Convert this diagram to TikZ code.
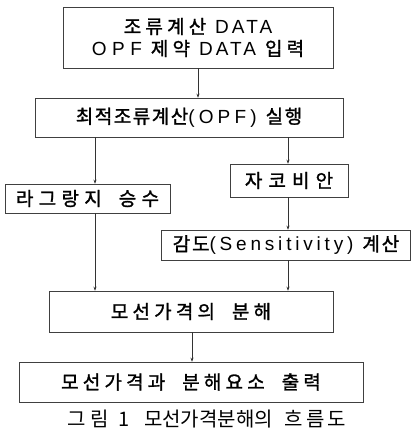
\documentclass[tikz,border=0pt]{standalone}
\usepackage{fontspec}
% Hangul and Latin faces for the boxes; tracking is set word by word
\newfontfamily\kr[FakeBold=1.4]{Noto Sans CJK KR}
\newfontfamily\latfont{Liberation Sans}
\newfontfamily\krcap{Noto Sans CJK KR}
\newcommand{\hg}[2]{{\addfontfeature{LetterSpace=#1}#2}}
\newcommand{\lat}[2]{{\latfont\addfontfeature{LetterSpace=#1}#2}}
\newcommand{\gap}{\hspace{9pt}}
\newcommand{\wgap}{\hspace{17pt}}
\usetikzlibrary{arrows.meta}
\begin{document}
\begin{tikzpicture}[x=1pt,y=-1pt,
  stepbox/.style={draw=black!75,line width=0.5pt,rectangle,inner sep=0pt,
    font=\kr\fontsize{19}{22}\selectfont,align=center},
  arr/.style={draw=black!80,line width=0.5pt,-{Stealth[length=4pt,width=3pt]}}]
\useasboundingbox (0,0) rectangle (411,432);

% process boxes
\node[stepbox,minimum width=270pt,minimum height=61pt] (b1) at (198,37.5)
  {\hg{22}{조류계산}\gap\lat{16}{DATA}\\
   \lat{29}{OPF}\gap\hg{22}{제약}\gap\lat{16}{DATA}\gap\hg{22}{입력}};
\node[stepbox,minimum width=308pt,minimum height=39pt] (b2) at (189,117.5)
  {\hg{8}{최적조류계산}\lat{22}{(OPF)}\gap\hg{8}{실행}};
\node[stepbox,minimum width=165pt,minimum height=29pt] (b3) at (87.5,198.5)
  {\hg{28}{라그랑지}\wgap\hg{28}{승수}};
\node[stepbox,minimum width=118pt,minimum height=33pt] (b4) at (289,180.5)
  {\hg{32}{자코비안}};
\node[stepbox,minimum width=249pt,minimum height=30pt] (b5) at (286,245)
  {\hg{10}{감도}\lat{20}{(Sensitivity)}\gap\hg{10}{계산}};
\node[stepbox,minimum width=284pt,minimum height=41pt] (b6) at (191,311.5)
  {\hg{22}{모선가격의}\wgap\hg{22}{분해}};
\node[stepbox,minimum width=344pt,minimum height=40pt] (b7) at (191,382)
  {\hg{22}{모선가격과}\wgap\hg{22}{분해요소}\wgap\hg{22}{출력}};

% caption
\node[font=\krcap\fontsize{20}{24}\selectfont,inner sep=0pt,anchor=west] (cap) at (67,419)
  {그\hspace{5pt}림\hspace{9pt}1\hspace{15pt}모선가격분해의\hspace{12pt}흐\hspace{3pt}름\hspace{3pt}도};

% vertical lanes of the connectors
\coordinate (mid) at (198,0);
\coordinate (lft) at (95,0);
\coordinate (rgt) at (288,0);
\coordinate (low) at (192,0);

\draw[arr] (mid |- b1.south) -- (mid |- b2.north);
\draw[arr] (lft |- b2.south) -- (lft |- b3.north);
\draw[arr] (rgt |- b2.south) -- (rgt |- b4.north);
\draw[arr] (rgt |- b4.south) -- (rgt |- b5.north);
\draw[arr] (lft |- b3.south) -- (lft |- b6.north);
\draw[arr] (rgt |- b5.south) -- (rgt |- b6.north);
\draw[arr] (low |- b6.south) -- (low |- b7.north);
\end{tikzpicture}
\end{document}
